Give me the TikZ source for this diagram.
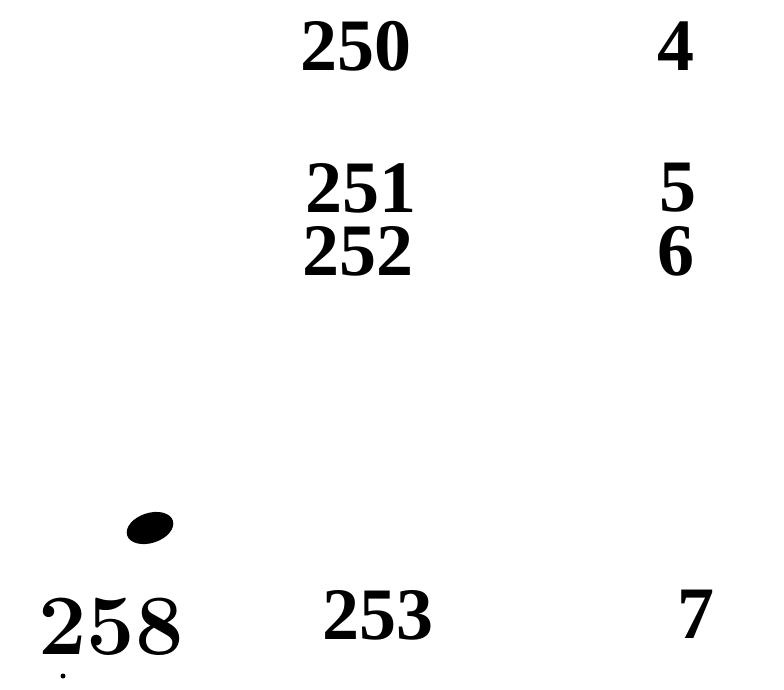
\documentclass[tikz,border=0pt]{standalone}
\usepackage{fontspec}
\newfontfamily\numfont{Liberation Serif}
\tikzset{num/.style={inner sep=0pt,font=\numfont\bfseries\fontsize{74}{74}\selectfont},
  bignum/.style={inner sep=0pt,font=\bfseries\fontsize{86}{86}\selectfont}}

\begin{document}
\begin{tikzpicture}[x=1pt,y=-1pt]
    \useasboundingbox (0,0) rectangle (784,690);
    \node[num] (n250) at (356,46) {250};
    \node[num] (n4) at (676,46) {4};
    \node[num] (n251) at (361,188) {251};
    \node[num] (n5) at (678,188) {5};
    \node[num] (n252) at (358,251) {252};
    \node[num] (n6) at (676,251) {6};
    \node[num] (n253) at (378,615) {253};
    \node[num] (n7) at (696,614) {7};
    \node[bignum] (n258) at (111,627) {258};
    % ink spots
    \fill[rotate around={18:(150,528)}] (150,528) ellipse (24 and 15);
    \fill (63,676) circle (2.5);
  \end{tikzpicture}
\end{document}
